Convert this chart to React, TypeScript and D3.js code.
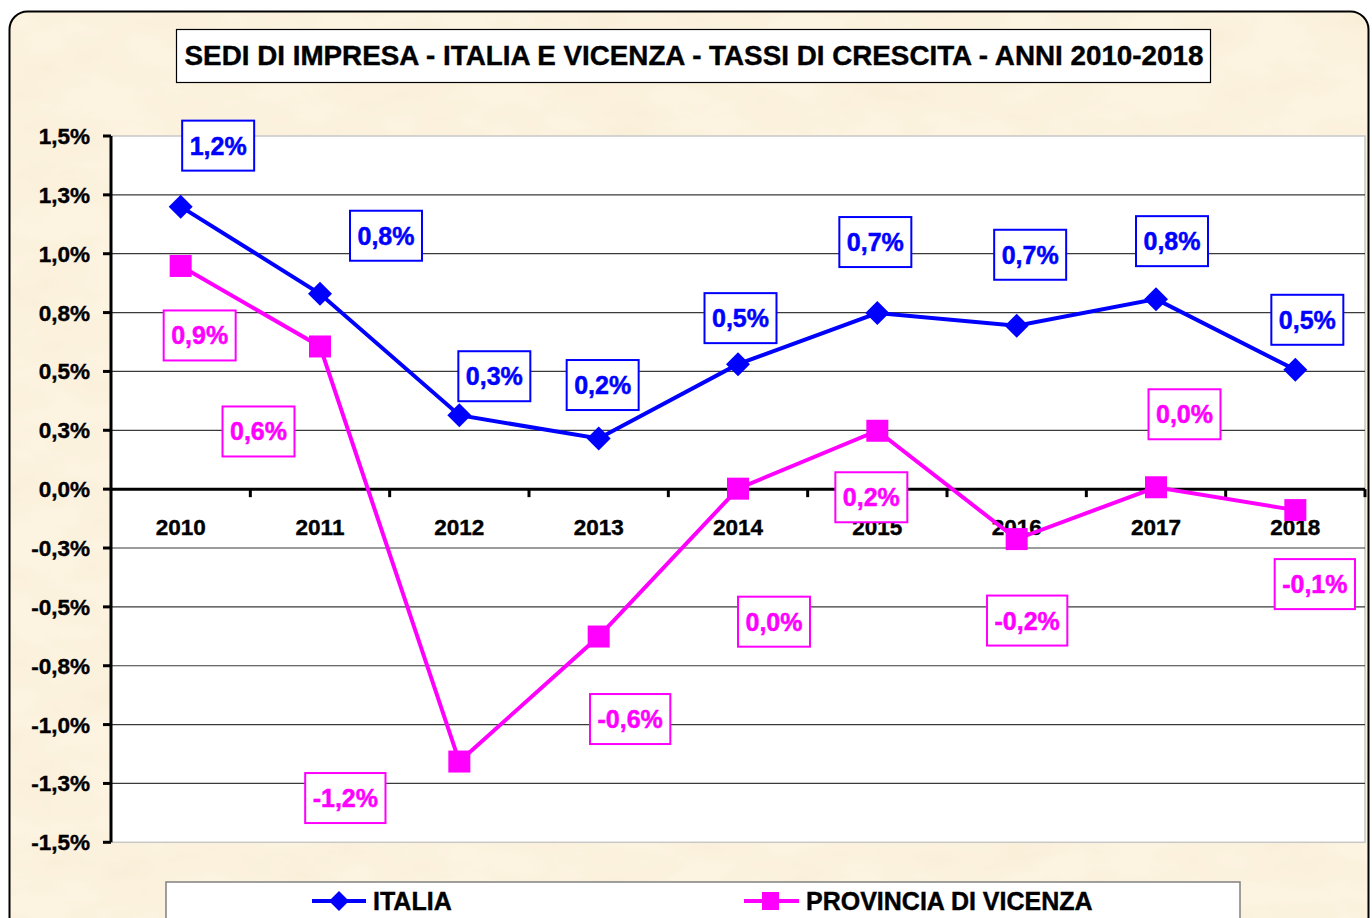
import React from "react";
import * as d3 from "d3";

const years = ["2010", "2011", "2012", "2013", "2014", "2015", "2016", "2017", "2018"];
const italia = [1.2, 0.83, 0.314, 0.215, 0.531, 0.748, 0.694, 0.807, 0.507];
const vicenza = [0.948, 0.606, -1.157, -0.626, 0.002, 0.248, -0.212, 0.008, -0.089];
const yTickValues = [-1.5, -1.25, -1.0, -0.75, -0.5, -0.25, 0, 0.25, 0.5, 0.75, 1.0, 1.25, 1.5];
const seriesNames = ["ITALIA", "PROVINCIA DI VICENZA"];
const title = "SEDI DI IMPRESA - ITALIA E VICENZA - TASSI DI CRESCITA - ANNI 2010-2018";

// layout: data label offsets (px) from their point
const italiaLabelOffsets = [[37.5, -61], [66, -58], [35, -39], [4, -53.5], [2.5, -46], [-2, -71], [13.5, -71], [16, -58], [12, -50]];
const vicenzaLabelOffsets = [[19, 69.5], [-61.5, 85], [-114, 36.5], [31.5, 82.5], [36, 133], [-6, 66.5], [10.5, 81.5], [28.5, -73], [19.5, 74]];

const FONT = "'Liberation Sans', Arial, sans-serif";
const locale = d3.formatLocale({ decimal: ",", thousands: ".", grouping: [3], currency: ["", "€"], minus: "-" });
const fmt = locale.format(".1f");
const pct = (v: number) => fmt(v) + "%";

let _ctx: CanvasRenderingContext2D | null = null;
function textWidth(t: string, font: string) {
  if (!_ctx) _ctx = document.createElement("canvas").getContext("2d");
  if (!_ctx) return t.length * 14;
  _ctx.font = font;
  return _ctx.measureText(t).width;
}

export default function App() {
  const W = 1372, H = 918;
  const left = 111, right = 1365, top = 136, bottom = 842.3;
  const x = d3.scaleBand<string>().domain(years).range([left, right]);
  const cx = (d: string) => (x(d) as number) + x.bandwidth() / 2;
  const y = d3.scaleLinear().domain([-1.5, 1.5]).range([bottom, top]);
  const line = d3.line<number>().x((_, i) => cx(years[i])).y((v) => y(v));

  const BLUE = "#0000FF";
  const MAG = "#FF00FF";
  const labelFont = `bold 25px ${FONT}`;

  const renderLabels = (vals: number[], offs: number[][], color: string) =>
    vals.map((v, i) => {
      const t = pct(v);
      const w = textWidth(t, labelFont) + 15;
      const px = cx(years[i]) + offs[i][0];
      const py = y(v) + offs[i][1];
      return (
        <g key={i}>
          <rect x={px - w / 2} y={py - 25} width={w} height={50} fill="#fff" stroke={color} strokeWidth={2} />
          <text x={px} y={py + 9} textAnchor="middle" fontFamily={FONT} fontWeight="bold" fontSize={25} fill={color} stroke={color} strokeWidth={0.5}>{t}</text>
        </g>
      );
    });

  const diamond = (px: number, py: number, r: number, color: string, key?: any) => (
    <path key={key} d={`M${px},${py - r}L${px + r},${py}L${px},${py + r}L${px - r},${py}Z`} fill={color} />
  );

  const xTicks = years.map((d) => x(d) as number).slice(1).concat([right]);
  const blackText = { fontFamily: FONT, fontWeight: "bold", fill: "#000", stroke: "#000", strokeWidth: 0.4 } as any;

  return (
    <svg width={W} height={H} style={{ position: "absolute", left: 0, top: 0 }}>
      <defs>
        <clipPath id="frameClip">
          <rect x={9.5} y={11.5} width={1359} height={960} rx={18} ry={18} />
        </clipPath>
        <filter id="parch" x="0" y="0" width="100%" height="100%">
          <feTurbulence type="fractalNoise" baseFrequency="0.012 0.025" numOctaves={4} seed={7} result="n" />
          <feColorMatrix in="n" type="matrix" values="0 0 0 0 0.9  0 0 0 0 0.79  0 0 0 0 0.58  0.6 0 0 0 -0.22" />
        </filter>
      </defs>
      <rect x={0} y={0} width={W} height={H} fill="#fff" />
      <g clipPath="url(#frameClip)">
        <rect x={0} y={0} width={W} height={H + 60} fill="#FCF3E0" />
        <rect x={0} y={0} width={W} height={H + 60} filter="url(#parch)" />
      </g>
      <rect x={9.5} y={11.5} width={1359} height={960} rx={18} ry={18} fill="none" stroke="#000" strokeWidth={2} />

      {/* title */}
      <rect x={176.5} y={29.5} width={1034} height={53} fill="#fff" stroke="#000" strokeWidth={1.2} />
      <text x={694} y={65} textAnchor="middle" fontSize={27.8} {...blackText}>{title}</text>

      {/* plot area */}
      <rect x={left} y={top} width={right - left} height={bottom - top} fill="#fff" stroke="#c8c8c8" strokeWidth={1.5} />
      {yTickValues.filter((v) => v !== 0 && Math.abs(v) !== 1.5).map((v) => (
        <line key={v} x1={left} x2={right} y1={y(v)} y2={y(v)} stroke="#3a3a3a" strokeWidth={1.2} />
      ))}

      {/* y axis */}
      <line x1={left} x2={left} y1={top} y2={bottom} stroke="#000" strokeWidth={3} />
      {yTickValues.map((v) => (
        <g key={v}>
          <line x1={left - 8} x2={left} y1={y(v)} y2={y(v)} stroke="#000" strokeWidth={3} />
          <text x={90} y={y(v) + 8} textAnchor="end" fontSize={22.5} {...blackText}>{pct(v)}</text>
        </g>
      ))}

      {/* x axis */}
      <line x1={left} x2={right} y1={y(0)} y2={y(0)} stroke="#000" strokeWidth={3} />
      {xTicks.map((tx, i) => (
        <line key={i} x1={tx} x2={tx} y1={y(0)} y2={y(0) + 8} stroke="#000" strokeWidth={3} />
      ))}
      {years.map((d) => (
        <text key={d} x={cx(d)} y={y(0) + 46} textAnchor="middle" fontSize={22.5} {...blackText}>{d}</text>
      ))}

      {/* series */}
      <path d={line(italia) as string} fill="none" stroke={BLUE} strokeWidth={4} />
      {italia.map((v, i) => diamond(cx(years[i]), y(v), 12, BLUE, "d" + i))}
      <path d={line(vicenza) as string} fill="none" stroke={MAG} strokeWidth={4} />
      {vicenza.map((v, i) => (
        <rect key={"s" + i} x={cx(years[i]) - 11} y={y(v) - 11} width={22} height={22} fill={MAG} />
      ))}

      {renderLabels(italia, italiaLabelOffsets, BLUE)}
      {renderLabels(vicenza, vicenzaLabelOffsets, MAG)}

      {/* legend */}
      <rect x={166} y={882} width={1074} height={60} fill="#fff" stroke="#808080" strokeWidth={1.5} />
      <line x1={312} x2={366} y1={901} y2={901} stroke={BLUE} strokeWidth={4} />
      {diamond(339, 901, 10, BLUE)}
      <text x={373} y={910} fontSize={25} {...blackText}>{seriesNames[0]}</text>
      <line x1={744} x2={799} y1={901} y2={901} stroke={MAG} strokeWidth={4} />
      <rect x={762} y={892} width={17} height={18} fill={MAG} />
      <text x={806} y={910} fontSize={25} {...blackText}>{seriesNames[1]}</text>
    </svg>
  );
}
